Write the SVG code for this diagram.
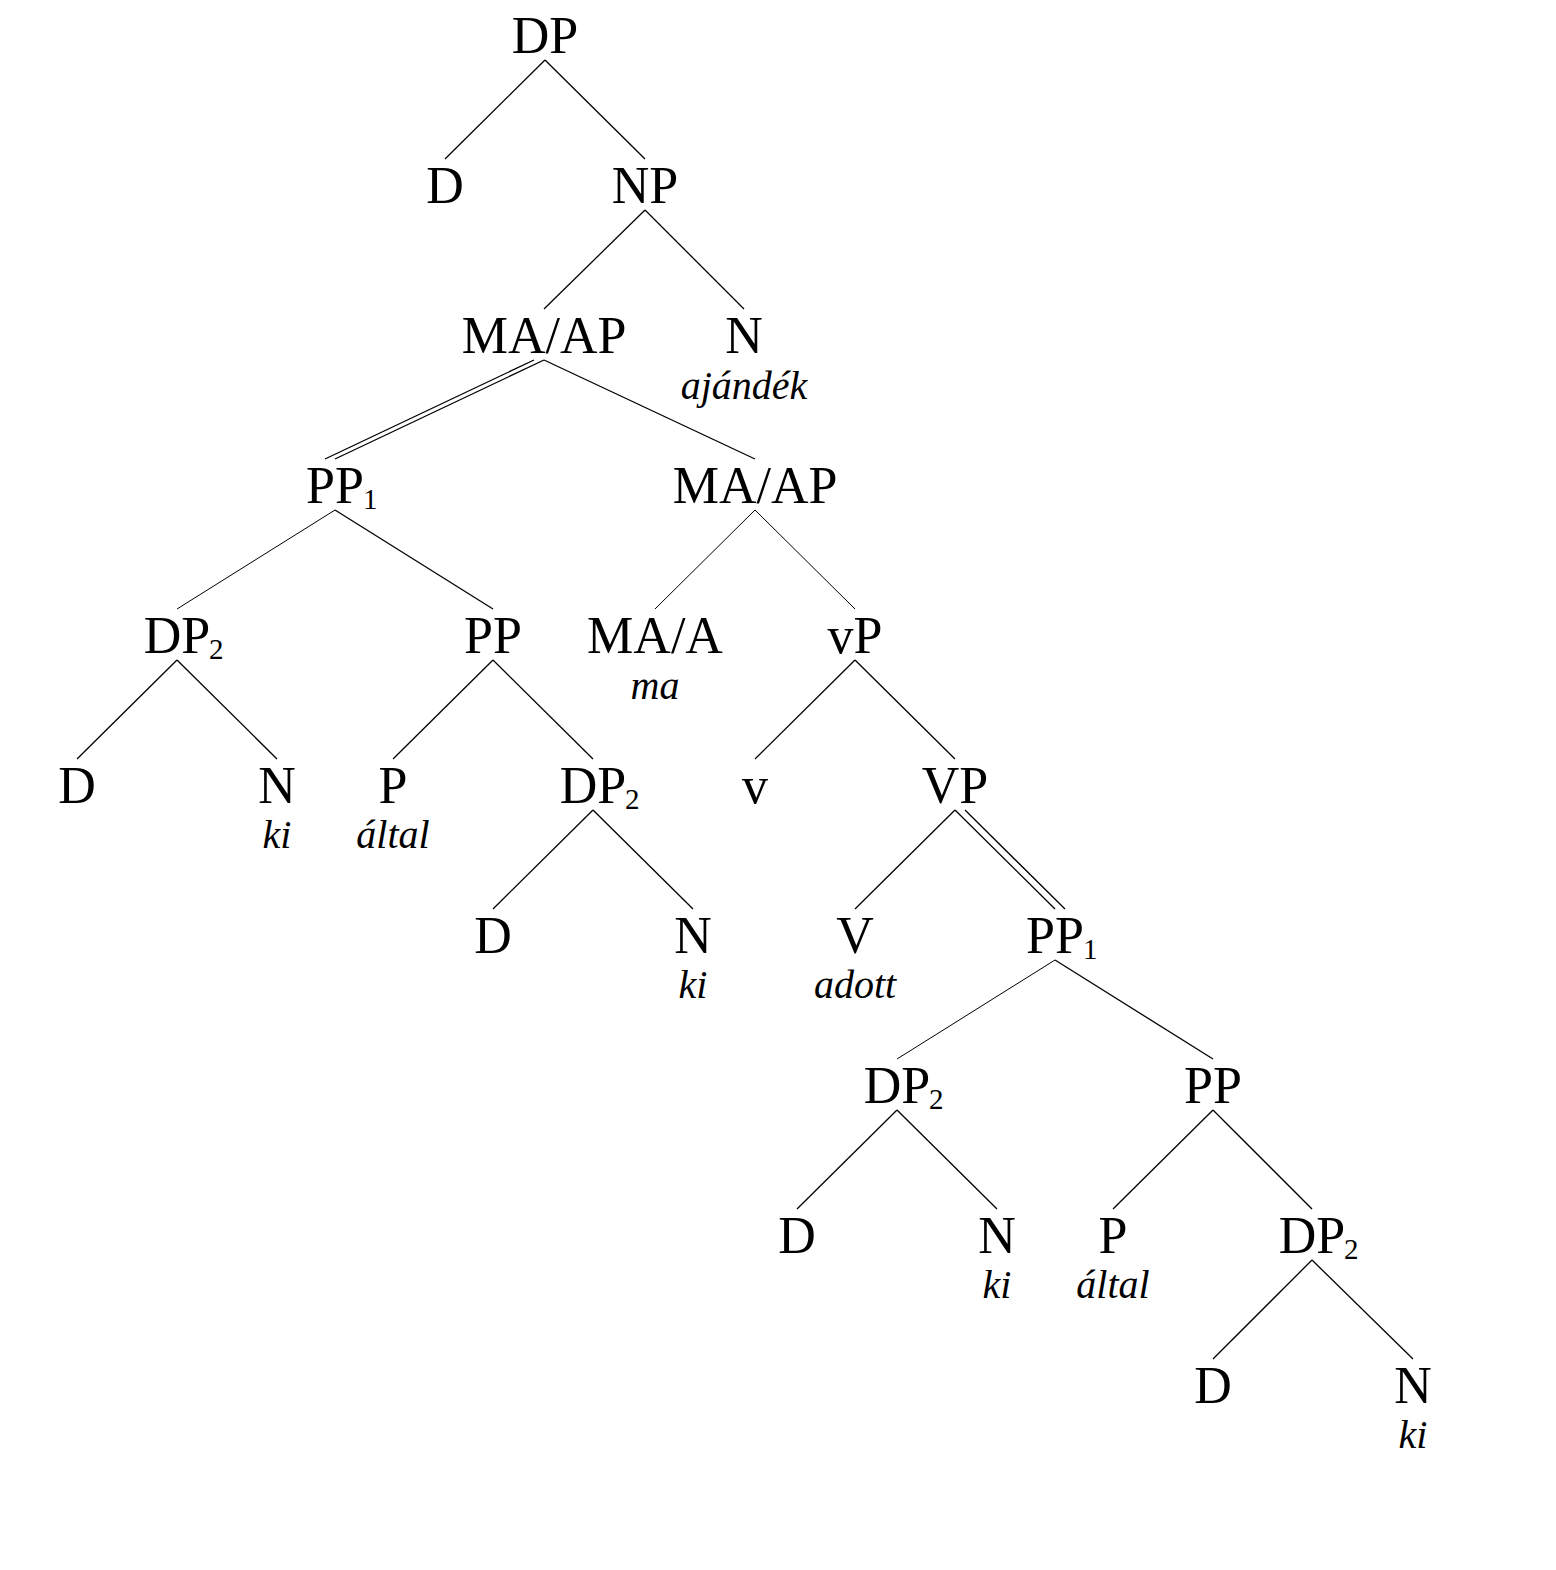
<svg xmlns="http://www.w3.org/2000/svg" width="1556" height="1570" viewBox="0 0 1556 1570">
<style>
text{font-family:"Liberation Serif","Times New Roman",serif;fill:#000}
.n{font-size:52px;text-anchor:middle}
.s{font-size:29px;text-anchor:start}
.w{font-size:40px;font-style:italic;text-anchor:middle}
line{stroke:#000;stroke-width:1.3;fill:none}
line.t{stroke-width:1}
</style>
<rect width="1556" height="1570" fill="#fff"/>
<g id="connectors">
<line x1="545" y1="60" x2="445" y2="159"/>
<line x1="545" y1="60" x2="645" y2="159"/>
<line x1="645" y1="210" x2="544" y2="309"/>
<line x1="645" y1="210" x2="744" y2="309"/>
<line x1="544" y1="360" x2="335" y2="459"/>
<line x1="534" y1="360" x2="325" y2="459"/>
<line x1="544" y1="360" x2="755" y2="459"/>
<line class="t" x1="335" y1="510" x2="177" y2="609"/>
<line x1="335" y1="510" x2="493" y2="609"/>
<line class="t" x1="755" y1="510" x2="655" y2="609"/>
<line class="t" x1="755" y1="510" x2="855" y2="609"/>
<line x1="177" y1="660" x2="77" y2="759"/>
<line x1="177" y1="660" x2="277" y2="759"/>
<line x1="493" y1="660" x2="393" y2="759"/>
<line x1="493" y1="660" x2="593" y2="759"/>
<line x1="855" y1="660" x2="755" y2="759"/>
<line x1="855" y1="660" x2="955" y2="759"/>
<line x1="593" y1="810" x2="493" y2="909"/>
<line x1="593" y1="810" x2="693" y2="909"/>
<line x1="955" y1="810" x2="855" y2="909"/>
<line x1="955" y1="810" x2="1055" y2="909"/>
<line x1="965" y1="810" x2="1065" y2="909"/>
<line class="t" x1="1055" y1="960" x2="897" y2="1059"/>
<line x1="1055" y1="960" x2="1213" y2="1059"/>
<line x1="897" y1="1110" x2="797" y2="1209"/>
<line x1="897" y1="1110" x2="997" y2="1209"/>
<line x1="1213" y1="1110" x2="1113" y2="1209"/>
<line x1="1213" y1="1110" x2="1312" y2="1209"/>
<line x1="1312" y1="1260" x2="1213" y2="1359"/>
<line x1="1312" y1="1260" x2="1413" y2="1359"/>
</g>
<g id="n-dp"><text class="n" x="545" y="53">DP</text></g>
<g id="n-d1"><text class="n" x="445" y="203">D</text></g>
<g id="n-np"><text class="n" x="645" y="203">NP</text></g>
<g id="n-maap1"><text class="n" x="544" y="353">MA/AP</text></g>
<g id="n-n1"><text class="n" x="744" y="353">N</text><text class="w" x="744" y="399">ajándék</text></g>
<g id="n-pp1a"><text class="n" x="335" y="503">PP</text><text class="s" x="363" y="509">1</text></g>
<g id="n-maap2"><text class="n" x="755" y="503">MA/AP</text></g>
<g id="n-dp2a"><text class="n" x="177" y="653">DP</text><text class="s" x="209" y="659">2</text></g>
<g id="n-ppa"><text class="n" x="493" y="653">PP</text></g>
<g id="n-maa"><text class="n" x="655" y="653">MA/A</text><text class="w" x="655" y="699">ma</text></g>
<g id="n-vp"><text class="n" x="855" y="653">vP</text></g>
<g id="n-d2"><text class="n" x="77" y="803">D</text></g>
<g id="n-n2"><text class="n" x="277" y="803">N</text><text class="w" x="277" y="848">ki</text></g>
<g id="n-p1"><text class="n" x="393" y="803">P</text><text class="w" x="393" y="848">által</text></g>
<g id="n-dp2b"><text class="n" x="593" y="803">DP</text><text class="s" x="625" y="809">2</text></g>
<g id="n-v"><text class="n" x="755" y="803">v</text></g>
<g id="n-vpbig"><text class="n" x="955" y="803">VP</text></g>
<g id="n-d3"><text class="n" x="493" y="953">D</text></g>
<g id="n-n3"><text class="n" x="693" y="953">N</text><text class="w" x="693" y="998">ki</text></g>
<g id="n-vbig"><text class="n" x="855" y="953">V</text><text class="w" x="855" y="998">adott</text></g>
<g id="n-pp1b"><text class="n" x="1055" y="953">PP</text><text class="s" x="1083" y="959">1</text></g>
<g id="n-dp2c"><text class="n" x="897" y="1103">DP</text><text class="s" x="929" y="1109">2</text></g>
<g id="n-ppb"><text class="n" x="1213" y="1103">PP</text></g>
<g id="n-d4"><text class="n" x="797" y="1253">D</text></g>
<g id="n-n4"><text class="n" x="997" y="1253">N</text><text class="w" x="997" y="1298">ki</text></g>
<g id="n-p2"><text class="n" x="1113" y="1253">P</text><text class="w" x="1113" y="1298">által</text></g>
<g id="n-dp2d"><text class="n" x="1312" y="1253">DP</text><text class="s" x="1344" y="1259">2</text></g>
<g id="n-d5"><text class="n" x="1213" y="1403">D</text></g>
<g id="n-n5"><text class="n" x="1413" y="1403">N</text><text class="w" x="1413" y="1448">ki</text></g>
</svg>
